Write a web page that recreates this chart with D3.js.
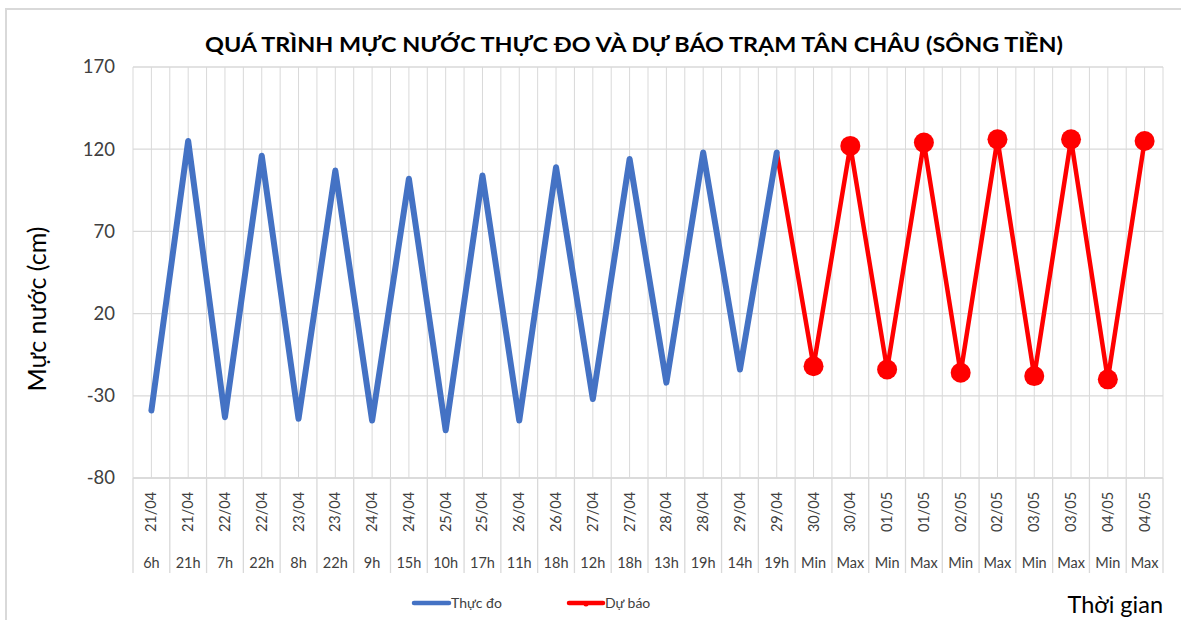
<!DOCTYPE html>
<html>
<head>
<meta charset="utf-8">
<script src="https://cdn.jsdelivr.net/npm/d3@7"></script>
<style>
html,body{margin:0;padding:0;background:#fff;}
svg{display:block;font-family:Lato,"Open Sans","Noto Sans",sans-serif;}
</style>
</head>
<body>
<svg id="chart" width="1181" height="620"></svg>
<script>
const dates = ["21/04","21/04","22/04","22/04","23/04","23/04","24/04","24/04","25/04","25/04","26/04","26/04","27/04","27/04","28/04","28/04","29/04","29/04","30/04","30/04","01/05","01/05","02/05","02/05","03/05","03/05","04/05","04/05"];
const hours = ["6h","21h","7h","22h","8h","22h","9h","15h","10h","17h","11h","18h","12h","18h","13h","19h","14h","19h","Min","Max","Min","Max","Min","Max","Min","Max","Min","Max"];
const observed = [-39,125,-43,116,-44,107,-45,102,-51,104,-45,109,-32,114,-22,118,-14,118];
const forecast = [118,-12,122,-14,124,-16,126,-18,126,-20,125];
const forecastStart = 17;
const yTicks = [-80,-30,20,70,120,170];
const title = "QUÁ TRÌNH MỰC NƯỚC THỰC ĐO VÀ DỰ BÁO TRẠM TÂN CHÂU (SÔNG TIỀN)";

const svg = d3.select("#chart");
const L = 133, R = 1163, T = 67, B = 478;
const n = dates.length;
const x = d3.scaleBand().domain(d3.range(n)).range([L, R]);
const y = d3.scaleLinear().domain([-80, 170]).range([B, T]);
const cx = i => x(i) + x.bandwidth() / 2;

// outer border
svg.append("rect").attr("x", 6).attr("y", 9).attr("width", 1200).attr("height", 700)
  .attr("fill", "none").attr("stroke", "#d9d9d9").attr("stroke-width", 2);

// vertical gridlines (boundaries and centers)
const g = svg.append("g");
for (let i = 0; i <= n; i++) {
  const xv = i < n ? x(i) : R;
  g.append("line").attr("x1", xv).attr("x2", xv).attr("y1", T).attr("y2", B).attr("stroke", "#d9d9d9").attr("stroke-width", 1);
  if (i < n) g.append("line").attr("x1", cx(i)).attr("x2", cx(i)).attr("y1", T).attr("y2", B).attr("stroke", "#d9d9d9").attr("stroke-width", 1);
}
// horizontal gridlines
yTicks.forEach(t => {
  g.append("line").attr("x1", L).attr("x2", R).attr("y1", y(t)).attr("y2", y(t)).attr("stroke", "#d9d9d9").attr("stroke-width", 1.3);
});

// y axis labels
const yAxis = d3.axisLeft(y).tickValues(yTicks).tickSize(0).tickPadding(18).tickFormat(d => String(d));
const ya = svg.append("g").attr("transform", `translate(${L},0)`).call(yAxis);
ya.select(".domain").remove();
ya.selectAll("text").attr("font-size", 18.5).attr("fill", "#404040").attr("font-family", "Lato, 'Open Sans', sans-serif");

// x category boxes
const xb = svg.append("g");
for (let i = 0; i <= n; i++) {
  const xv = i < n ? x(i) : R;
  xb.append("line").attr("x1", xv).attr("x2", xv).attr("y1", B).attr("y2", 573).attr("stroke", "#d9d9d9").attr("stroke-width", 1.3);
}
xb.append("line").attr("x1", L).attr("x2", R).attr("y1", B).attr("y2", B).attr("stroke", "#d9d9d9").attr("stroke-width", 1.3);
dates.forEach((d, i) => {
  xb.append("text").attr("transform", `translate(${cx(i) + 5},512) rotate(-90)`)
    .attr("text-anchor", "middle").attr("font-size", 14.5).attr("fill", "#404040").text(d);
});
hours.forEach((h, i) => {
  xb.append("text").attr("x", cx(i)).attr("y", 568)
    .attr("text-anchor", "middle").attr("font-size", 14.5).attr("fill", "#404040").text(h);
});

// lines
const line = d3.line().x(d => cx(d.i)).y(d => y(d.v));
const obsData = observed.map((v, i) => ({i, v}));
const fcData = forecast.map((v, k) => ({i: forecastStart + k, v}));

svg.append("path").datum(fcData).attr("d", line).attr("fill", "none")
  .attr("stroke", "#ff0000").attr("stroke-width", 4.5).attr("stroke-linejoin", "round").attr("stroke-linecap", "round");
svg.append("path").datum(obsData).attr("d", line).attr("fill", "none")
  .attr("stroke", "#4472c4").attr("stroke-width", 6).attr("stroke-linejoin", "round").attr("stroke-linecap", "round");
svg.append("g").selectAll("circle").data(fcData.slice(1)).join("circle")
  .attr("cx", d => cx(d.i)).attr("cy", d => y(d.v)).attr("r", 10).attr("fill", "#ff0000");

// title
svg.append("text").attr("x", 634).attr("y", 52).attr("text-anchor", "middle")
  .attr("font-size", 20.5).attr("font-weight", "bold").attr("fill", "#000")
  .attr("textLength", 858).attr("lengthAdjust", "spacingAndGlyphs").text(title);

// y axis title
svg.append("text").attr("transform", "translate(46,309) rotate(-90)").attr("text-anchor", "middle")
  .attr("font-size", 25).attr("fill", "#000").text("Mực nước (cm)");

// x axis title
svg.append("text").attr("x", 1163).attr("y", 613).attr("text-anchor", "end")
  .attr("font-size", 23.5).attr("fill", "#000").text("Thời gian");

// legend
const lg = svg.append("g");
lg.append("line").attr("x1", 414).attr("x2", 449).attr("y1", 603).attr("y2", 603).attr("stroke", "#4472c4").attr("stroke-width", 4.5).attr("stroke-linecap", "round");
lg.append("text").attr("x", 451).attr("y", 608).attr("font-size", 14).attr("fill", "#404040").text("Thực đo");
lg.append("line").attr("x1", 569).attr("x2", 603).attr("y1", 603).attr("y2", 603).attr("stroke", "#ff0000").attr("stroke-width", 4.5).attr("stroke-linecap", "round");
lg.append("circle").attr("cx", 586).attr("cy", 604).attr("r", 2.5).attr("fill", "#ff0000");
lg.append("text").attr("x", 605).attr("y", 608).attr("font-size", 14).attr("fill", "#404040").text("Dự báo");
</script>
</body>
</html>
